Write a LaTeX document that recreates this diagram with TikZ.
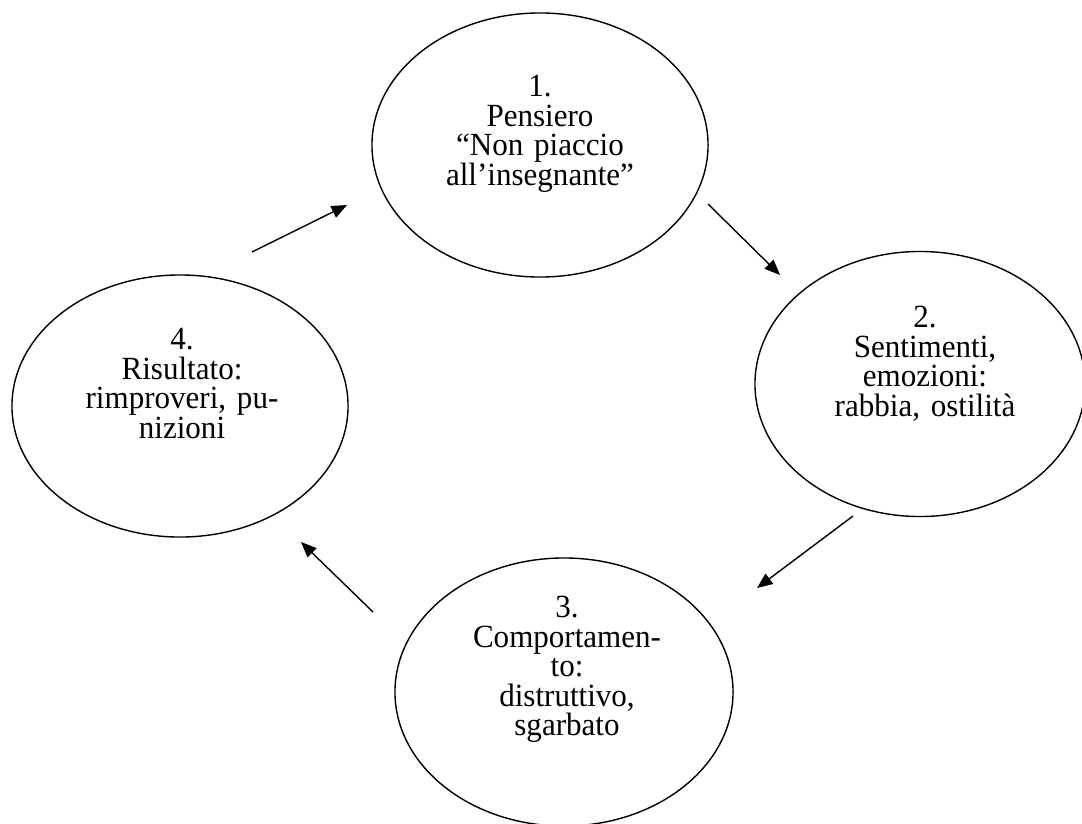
\documentclass[tikz,border=0pt]{standalone}
\usepackage{fontspec}
\setmainfont{Liberation Serif}[FakeStretch=0.96]
\usetikzlibrary{shapes.geometric, arrows.meta}

\begin{document}
\begin{tikzpicture}[x=0.025cm, y=-0.025cm, >={Triangle[length=11pt, width=9pt]},
    bubble/.style={draw, ellipse, line width=1pt, inner sep=0pt},
    txt/.style={anchor=north, align=center, text width=8cm, inner sep=0pt,
      font=\fontsize{23pt}{21pt}\selectfont}]
    \clip (0,0) rectangle (1082,823);
    \node[bubble, minimum width=8.4cm, minimum height=6.6cm] (e1) at (540,145) {};
    \node[bubble, minimum width=8.25cm, minimum height=6.625cm] (e2) at (920,384) {};
    \node[bubble, minimum width=8.45cm, minimum height=6.7cm] (e3) at (564,692) {};
    \node[bubble, minimum width=8.4cm, minimum height=6.55cm] (e4) at (180,406) {};
    \node[txt] (t1) at (540,75) {1.\\Pensiero\\“Non piaccio\\all’insegnante”};
    \node[txt] (t2) at (925,306) {2.\\Sentimenti,\\emozioni:\\rabbia, ostilità};
    \node[txt] (t3) at (567,596) {3.\\Comportamen-\\to:\\distruttivo,\\sgarbato};
    \node[txt] (t4) at (182,328) {4.\\Risultato:\\rimproveri, pu-\\nizioni};
    % arrows between the bubbles
    \coordinate (s41) at (252,252); \coordinate (e41) at (347,205);
    \coordinate (s12) at (708,204); \coordinate (e12) at (780,275);
    \coordinate (s23) at (853,516); \coordinate (e23) at (757,588);
    \coordinate (s34) at (373,612); \coordinate (e34) at (301,542);
    \draw[->, line width=1pt](s41)--(e41);
    \draw[->, line width=1pt](s12)--(e12);
    \draw[->, line width=1pt](s23)--(e23);
    \draw[->, line width=1pt](s34)--(e34);
\end{tikzpicture}
\end{document}
